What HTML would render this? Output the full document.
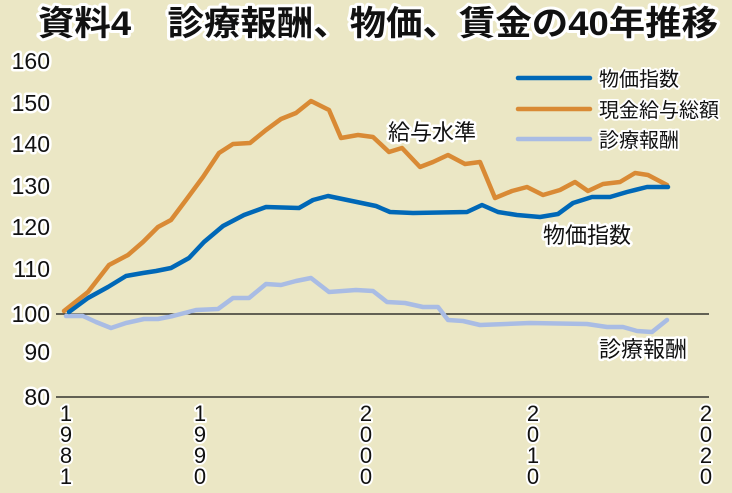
<!DOCTYPE html>
<html><head><meta charset="utf-8"><style>
html,body{margin:0;padding:0;background:#ebe7c5;}
svg{display:block}
text{font-family:"Liberation Sans","Noto Sans CJK JP",sans-serif;fill:#111;paint-order:stroke;stroke:#fff;stroke-linejoin:round}
</style></head><body>
<svg width="732" height="493" viewBox="0 0 732 493" xmlns="http://www.w3.org/2000/svg">
<rect width="732" height="493" fill="#ebe7c5"/>
<text x="38" y="35" font-size="34" font-weight="bold" stroke-width="6" textLength="680" lengthAdjust="spacingAndGlyphs">資料4　診療報酬、物価、賃金の40年推移</text>
<g font-size="23" stroke-width="5" text-anchor="end">
<text x="50" y="69">160</text>
<text x="50" y="111">150</text>
<text x="50" y="152">140</text>
<text x="50" y="194">130</text>
<text x="50" y="235">120</text>
<text x="50" y="277">110</text>
<text x="50" y="322">100</text>
<text x="50" y="360">90</text>
<text x="50" y="405">80</text>
</g>
<line x1="56" y1="314" x2="709" y2="314" stroke="#111" stroke-width="1.2"/>
<line x1="56" y1="397" x2="709" y2="397" stroke="#111" stroke-width="1.2"/>
<g font-size="22" stroke-width="4" text-anchor="middle">
<text x="66" y="421">1</text><text x="66" y="442">9</text><text x="66" y="463">8</text><text x="66" y="484">1</text>
<text x="200" y="421">1</text><text x="200" y="442">9</text><text x="200" y="463">9</text><text x="200" y="484">0</text>
<text x="366" y="421">2</text><text x="366" y="442">0</text><text x="366" y="463">0</text><text x="366" y="484">0</text>
<text x="533" y="421">2</text><text x="533" y="442">0</text><text x="533" y="463">1</text><text x="533" y="484">0</text>
<text x="706" y="421">2</text><text x="706" y="442">0</text><text x="706" y="463">2</text><text x="706" y="484">0</text>
</g>
<g fill="none" stroke-width="4.5" stroke-linejoin="round" stroke-linecap="round">
<polyline stroke="#a9bce4" points="66,316 83,316 96,322 111,328 126,323 144,319 158,319 173,316 196,310 218,309 233,298 249,298 266,284 281,285 296,281 311,278 329,292 356,290 373,291 387,302 405,303 423,307 438,307 448,320 463,321 480,325 530,323 587,324 607,327 623,327 637,331 652,332 667,320"/>
<polyline stroke="#d98a35" points="64,311 88,292 109,265 128,255 143,242 158,227 171,220 186,200 203,177 219,153 233,144 250,143 266,130 281,119 296,113 311,101 329,110 341,138 358,135 373,137 389,152 402,148 420,167 433,162 448,155 465,164 480,162 495,198 512,191 527,187 543,195 560,190 575,182 588,191 603,184 620,182 635,173 648,175 667,185"/>
<polyline stroke="#0068b7" points="69,312 88,298 108,287 126,276 143,273 156,271 171,268 189,258 204,242 223,226 244,215 266,207 299,208 313,200 328,196 376,206 390,212 413,213 467,212 482,205 498,212 517,215 540,217 558,214 573,203 592,197 610,197 627,192 647,187 668,187"/>
<line x1="518" y1="78" x2="590" y2="78" stroke="#0068b7"/>
<line x1="518" y1="109" x2="590" y2="109" stroke="#d98a35"/>
<line x1="518" y1="139" x2="590" y2="139" stroke="#a9bce4"/>
</g>
<g font-size="20" stroke-width="4">
<text x="599" y="86">物価指数</text>
<text x="599" y="117">現金給与総額</text>
<text x="599" y="147">診療報酬</text>
</g>
<g font-size="22" stroke-width="5">
<text x="388" y="140">給与水準</text>
<text x="543" y="243">物価指数</text>
<text x="599" y="357">診療報酬</text>
</g>
</svg>
</body></html>
